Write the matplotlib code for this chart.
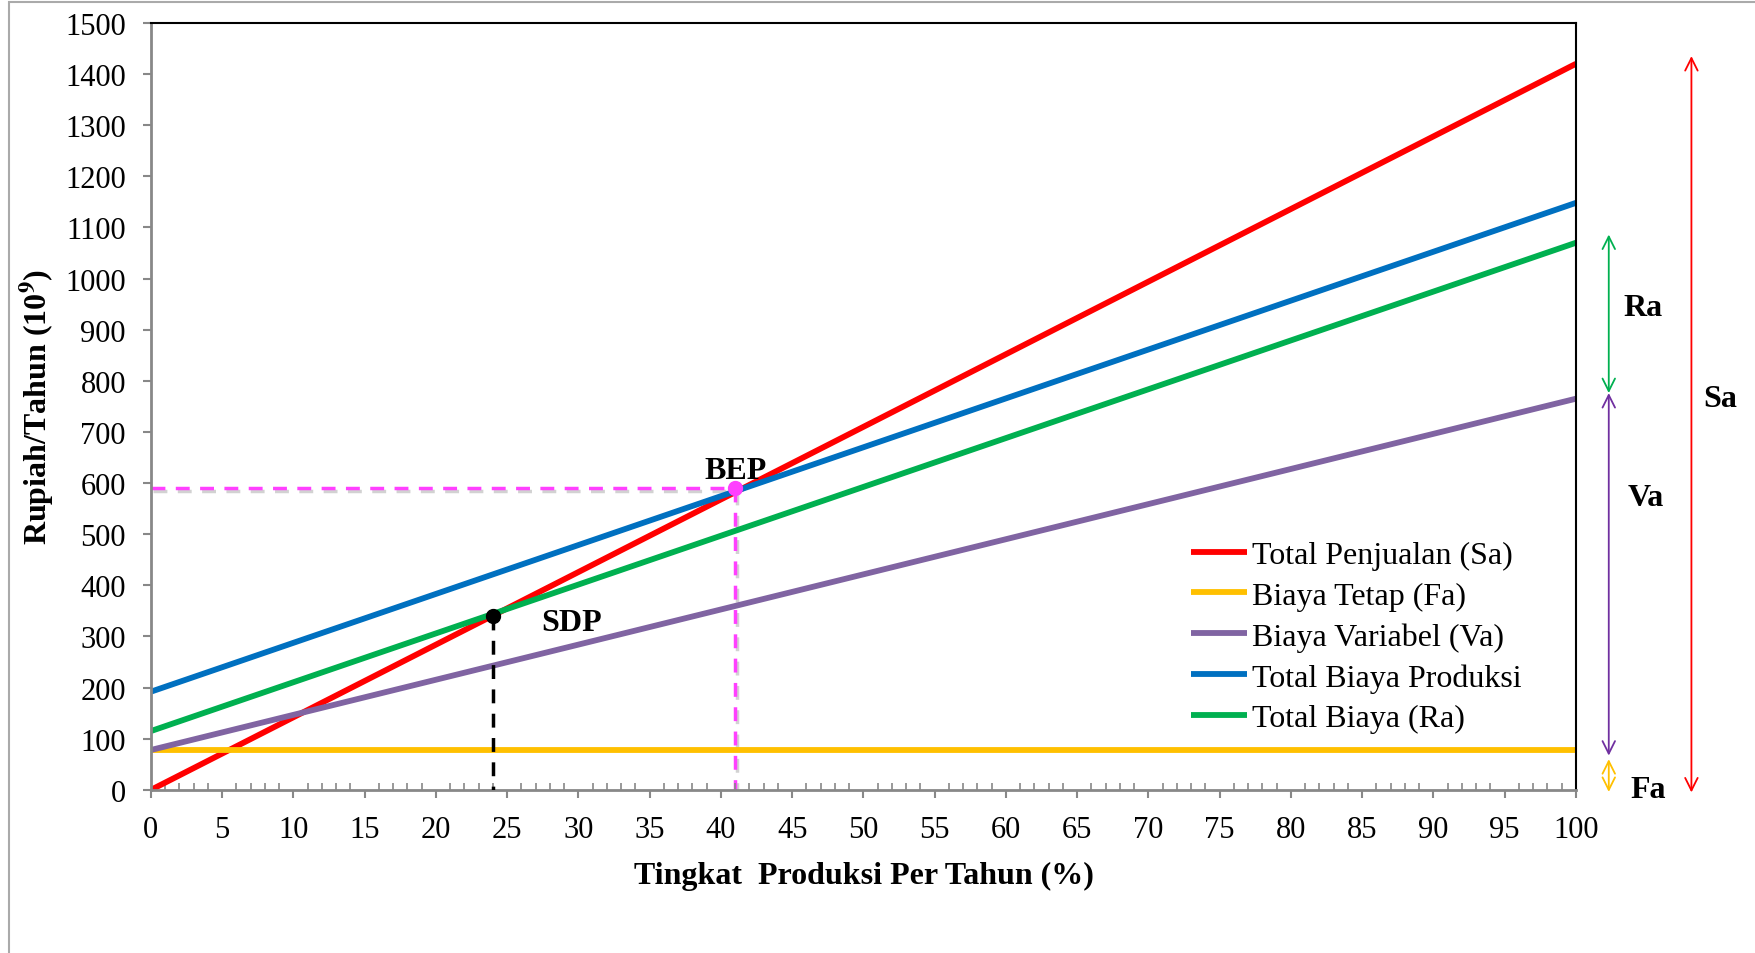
import matplotlib
matplotlib.use("Agg")
import matplotlib.pyplot as plt
import matplotlib.patheffects as pe
from matplotlib.patches import Rectangle
from matplotlib.ticker import MultipleLocator

plt.rcParams['font.family'] = ['Liberation Serif', 'DejaVu Serif']
plt.rcParams['mathtext.fontset'] = 'stix'

# data (x = % production, y = Rupiah/Tahun x 10^9)
x_pct = [0, 100]
penjualan = [0, 1420]
biaya_tetap = [78, 78]
biaya_variabel = [78, 765]
total_biaya_produksi = [192, 1148]
total_biaya = [115, 1070]

bep = (41, 590)
sdp = (24, 340)

labels = ['Total Penjualan (Sa)', 'Biaya Tetap (Fa)', 'Biaya Variabel (Va)',
          'Total Biaya Produksi', 'Total Biaya (Ra)']
colors = ['#FF0000', '#FFC000', '#8064A2', '#0070C0', '#00B050']
series = [penjualan, biaya_tetap, biaya_variabel, total_biaya_produksi, total_biaya]

FS = 23

fig = plt.figure(figsize=(17.55, 9.54), dpi=100)
ax = fig.add_axes([0.086, 0.171, 0.812, 0.804])

for ys, c, lab in zip(series, colors, labels):
    ax.plot(x_pct, ys, color=c, lw=4.2, label=lab, solid_capstyle='butt')

shadow = [pe.SimpleLineShadow(offset=(1.5, -2), shadow_color='gray', alpha=0.35), pe.Normal()]
ax.plot([0, bep[0]], [bep[1], bep[1]], color='#FF40FF', lw=2.5, ls=(0, (4, 3)),
        path_effects=shadow, zorder=1)
ax.plot([bep[0], bep[0]], [bep[1], 0], color='#FF40FF', lw=2.5, ls=(0, (4, 3)),
        path_effects=shadow, zorder=1)
ax.plot([sdp[0], sdp[0]], [sdp[1], 0], color='black', lw=2.5, ls=(0, (4, 3)), zorder=6)
ax.plot(*sdp, 'o', color='black', ms=10, zorder=7)
ax.plot(*bep, 'o', color='#FF40FF', ms=10, zorder=7)

ax.text(bep[0], 625, 'BEP', fontsize=FS, fontweight='bold', ha='center', va='center')
ax.text(29.5, 328, 'SDP', fontsize=FS, fontweight='bold', ha='center', va='center')

ax.set_xlim(0, 100)
ax.set_ylim(0, 1500)
ax.xaxis.set_major_locator(MultipleLocator(5))
ax.xaxis.set_minor_locator(MultipleLocator(1))
ax.yaxis.set_major_locator(MultipleLocator(100))
ax.tick_params(axis='x', which='major', direction='out', length=6, width=1.5,
               color='#888888', labelsize=22, pad=12)
ax.tick_params(axis='x', which='minor', direction='in', length=5, width=1.2, color='#888888')
ax.tick_params(axis='y', which='major', direction='out', length=6, width=1.5,
               color='#888888', labelsize=22, pad=12)
for s in ['left', 'bottom']:
    ax.spines[s].set_color('#888888')
    ax.spines[s].set_linewidth(2)
for s in ['top', 'right']:
    ax.spines[s].set_color('black')
    ax.spines[s].set_linewidth(1.5)

ax.set_xlabel('Tingkat  Produksi Per Tahun (%)', fontsize=FS, fontweight='bold', labelpad=12)
ax.set_ylabel('Rupiah/Tahun (10$^{\\mathbf{9}}$)', fontsize=FS, fontweight='bold', labelpad=6)

ax.legend(loc='upper left', bbox_to_anchor=(0.721, 0.342), borderaxespad=0,
          frameon=False, fontsize=FS, handlelength=1.75, handletextpad=0.15,
          labelspacing=0.36)

# dimension arrows beside the plot
def dim_arrow(x, y0, y1, color):
    ax.annotate('', xy=(x, y1), xytext=(x, y0), annotation_clip=False,
                arrowprops=dict(arrowstyle='<->,head_length=0.9,head_width=0.45',
                                color=color, lw=1.3, shrinkA=0, shrinkB=0))

dim_arrow(102.3, 776, 1086, '#00B050')
dim_arrow(102.3, 67, 776, '#7030A0')
dim_arrow(102.3, -4, 60, '#FFC000')
dim_arrow(108.1, -5, 1435, '#FF0000')

ax.text(104.7, 944, 'Ra', fontsize=FS, fontweight='bold', ha='center', va='center', clip_on=False)
ax.text(104.9, 572, 'Va', fontsize=FS, fontweight='bold', ha='center', va='center', clip_on=False)
ax.text(105.1, 0, 'Fa', fontsize=FS, fontweight='bold', ha='center', va='center', clip_on=False)
ax.text(110.1, 765, 'Sa', fontsize=FS, fontweight='bold', ha='center', va='center', clip_on=False)

# outer frame (cropped on the right/bottom)
fig.patches.append(Rectangle((0.005, -0.1), 1.2, 1.097, transform=fig.transFigure,
                             fill=False, edgecolor='#AAAAAA', lw=1.5))

fig.savefig('out.png', dpi=100)
